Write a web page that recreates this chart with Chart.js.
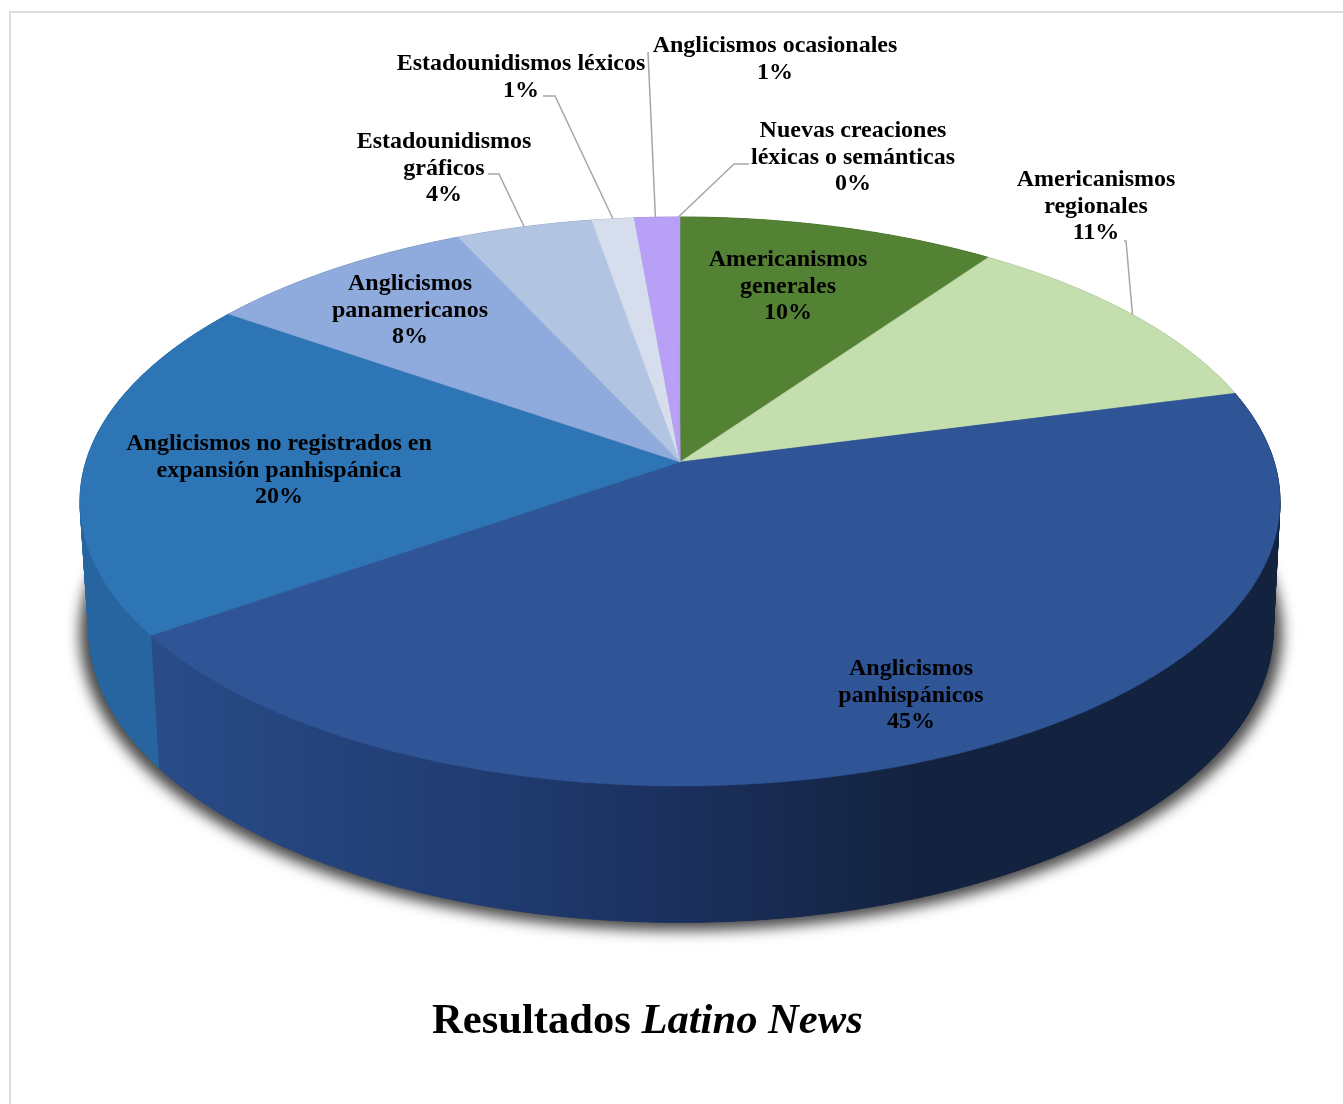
<!DOCTYPE html>
<html>
<head>
<meta charset="utf-8">
<title>Resultados Latino News</title>
<script src="https://cdn.jsdelivr.net/npm/chart.js@4/dist/chart.umd.min.js"></script>
<style>
    html, body { margin: 0; padding: 0; background: #fff; overflow: hidden; }
    #wrap { position: relative; width: 1343px; height: 1104px; }
    #frame { position: absolute; left: 9px; top: 11px; right: 0; bottom: -5px; border: 2px solid #dcdcdc; border-right: 0; border-bottom: 0; }
    canvas { position: absolute; left: 0; top: 0; }
</style>
</head>
<body>
<div id="wrap">
    <div id="frame"></div>
    <canvas id="pieChart" width="1343" height="1104"></canvas>
</div>
<script>
// values, clockwise from 12 o'clock
var categories = [
    ["Americanismos", "generales"],
    ["Americanismos", "regionales"],
    ["Anglicismos", "panhispánicos"],
    ["Anglicismos no registrados en", "expansión panhispánica"],
    ["Anglicismos", "panamericanos"],
    ["Estadounidismos", "gráficos"],
    ["Estadounidismos léxicos"],
    ["Anglicismos ocasionales"],
    ["Nuevas creaciones", "léxicas o semánticas"]
];
var values = [9.8, 11.1, 44.4, 19.4, 8.4, 4.2, 1.3, 1.3, 0.1];
// percentages as printed on the chart
var percentLabels = ["10%", "11%", "45%", "20%", "8%", "4%", "1%", "1%", "0%"];
var sliceColors = ["#548235", "#c5deae", "#2f5597", "#2e75b6", "#8faadc", "#b1c4e2", "#d6dded", "#b9a0f7", "#b9a0f7"];
// side wall shade, left end and right end
var wallColors = [
    ["#3f6228", "#3f6228"],
    ["#94a783", "#94a783"],
    ["#294b87", "#13233f"],
    ["#26659f", "#25639b"],
    ["#6b80a5", "#6b80a5"],
    ["#8593aa", "#8593aa"],
    ["#a0a6b2", "#a0a6b2"],
    ["#8b78b9", "#8b78b9"],
    ["#8b78b9", "#8b78b9"]
];

// label centre x and first baseline y for each category
var labelCenterX = [788, 1096, 911, 279, 410, 444, 521, 775, 853];
var labelTopY = [266, 186, 675, 450, 290, 148, 70, 52, 137];
// leader lines: [start x, start y, elbow x, elbow y], null when the label sits on the slice
var leaders = [
    null,
    [1124, 241, 1126, 241],
    null, null, null,
    [488, 174, 499, 174],
    [543, 96, 555, 96],
    [648, 52, 648, 52],
    [749, 164, 734, 164]
];

// perspective of the tilted disc
var apexX = 680, apexY = 462;
var spanX = 594.2, spanY = 279, tilt = 0.1388;
var baseScale = 0.987, baseY = 589, baseSpanY = 291;

function topPoint(angle) {
    var X = Math.cos(angle), Y = -Math.sin(angle);
    var w = 1 + tilt * Y;
    return [apexX + spanX * X / w, apexY - spanY * Y / w];
}

function basePoint(angle, scale, offsetY) {
    var X = Math.cos(angle), Y = -Math.sin(angle);
    var w = 1 + tilt * Y;
    return [apexX + 1 + scale * spanX * X / w, baseY + (offsetY || 0) - baseSpanY * scale * Y / w];
}

function arcPoints(start, end, fn) {
    var pts = [];
    var steps = Math.max(2, Math.ceil((end - start) / 0.008));
    for (var i = 0; i <= steps; i++) {
        pts.push(fn(start + (end - start) * i / steps));
    }
    return pts;
}

function tracePolygon(ctx, pts) {
    ctx.beginPath();
    pts.forEach(function (p, i) {
        if (i === 0) ctx.moveTo(p[0], p[1]);
        else ctx.lineTo(p[0], p[1]);
    });
    ctx.closePath();
}

var disc3d = {
    id: "disc3d",
    beforeDatasetDraw: function (chart, args) {
        var ctx = chart.ctx;
        var arcs = args.meta.data;
        ctx.save();

        // soft shadow under the base, the shape itself stays off the canvas
        var ring = arcPoints(0, Math.PI * 2, function (a) {
            var p = basePoint(a, 1.002, 3);
            return [p[0] - 3000, p[1]];
        });
        ctx.shadowColor = "rgba(0,0,0,0.72)";
        ctx.shadowBlur = 14;
        ctx.shadowOffsetX = 3000;
        ctx.fillStyle = "#000";
        tracePolygon(ctx, ring);
        ctx.fill();
        ctx.shadowColor = "transparent";
        ctx.shadowBlur = 0;
        ctx.shadowOffsetX = 0;

        // side walls: thin quads give the tangent outline, the whole band on top keeps it smooth
        arcs.forEach(function (arc, i) {
            var a = arc.startAngle, b = arc.endAngle;
            var tops = arcPoints(a, b, topPoint);
            var bases = arcPoints(a, b, function (t) { return basePoint(t, baseScale); });
            var grad = ctx.createLinearGradient(160, 0, 1100, 0);
            grad.addColorStop(0, wallColors[i][0]);
            if (i === 2) {
                grad.addColorStop(0.38, "#1f3a6e");
                grad.addColorStop(0.58, "#1a2e5a");
                grad.addColorStop(0.8, "#13233f");
            }
            grad.addColorStop(1, wallColors[i][1]);
            ctx.fillStyle = grad;
            ctx.strokeStyle = grad;
            ctx.lineWidth = 0.6;
            for (var n = 0; n < tops.length - 1; n++) {
                tracePolygon(ctx, [tops[n], tops[n + 1], bases[n + 1], bases[n]]);
                ctx.fill();
                ctx.stroke();
            }
            tracePolygon(ctx, tops.concat(bases.slice().reverse()));
            ctx.fill();
        });

        // top face
        arcs.forEach(function (arc, i) {
            var pts = [[apexX, apexY]].concat(arcPoints(arc.startAngle, arc.endAngle, topPoint));
            ctx.fillStyle = sliceColors[i];
            ctx.strokeStyle = sliceColors[i];
            ctx.lineWidth = 0.5;
            tracePolygon(ctx, pts);
            ctx.fill();
            ctx.stroke();
        });
        ctx.restore();
        return false;
    },
    afterDraw: function (chart) {
        var ctx = chart.ctx;
        var arcs = chart.getDatasetMeta(0).data;
        ctx.save();

        // leader lines go to the middle of the slice rim
        ctx.strokeStyle = "#a6a6a6";
        ctx.lineWidth = 1.5;
        arcs.forEach(function (arc, i) {
            if (!leaders[i]) return;
            var end = topPoint((arc.startAngle + arc.endAngle) / 2);
            ctx.beginPath();
            ctx.moveTo(leaders[i][0], leaders[i][1]);
            ctx.lineTo(leaders[i][2], leaders[i][3]);
            ctx.lineTo(end[0], end[1]);
            ctx.stroke();
        });

        // data labels
        ctx.fillStyle = "#000";
        ctx.font = "bold 24px 'Liberation Serif'";
        ctx.textAlign = "center";
        ctx.textBaseline = "alphabetic";
        categories.forEach(function (lines, i) {
            var all = lines.concat([percentLabels[i]]);
            all.forEach(function (line, n) {
                ctx.fillText(line, labelCenterX[i], labelTopY[i] + n * 26.5);
            });
        });

        // title, half upright and half italic
        var first = "Resultados ", second = "Latino News";
        ctx.textAlign = "left";
        ctx.font = "bold 42.6px 'Liberation Serif'";
        var firstWidth = ctx.measureText(first).width;
        ctx.fillText(first, 432, 1033);
        ctx.font = "italic bold 42.6px 'Liberation Serif'";
        ctx.fillText(second, 432 + firstWidth, 1033);
        ctx.restore();
    }
};

var chart = new Chart(document.getElementById("pieChart").getContext("2d"), {
    type: "pie",
    data: {
        labels: categories,
        datasets: [{
            data: values,
            backgroundColor: sliceColors,
            borderWidth: 0
        }]
    },
    options: {
        responsive: false,
        animation: false,
        events: [],
        plugins: {
            legend: { display: false },
            tooltip: { enabled: false },
            title: { display: false }
        }
    },
    plugins: [disc3d]
});
</script>
</body>
</html>
